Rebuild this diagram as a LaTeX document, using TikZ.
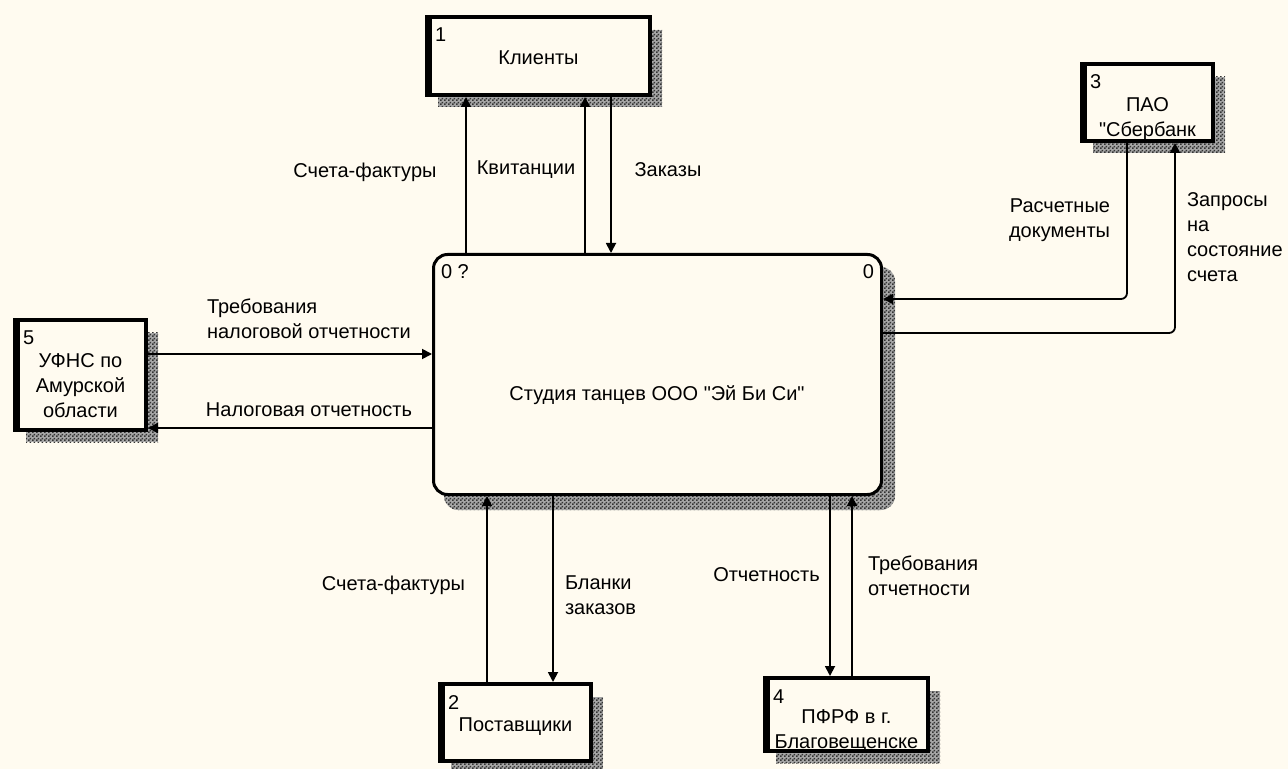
\documentclass[tikz,border=0pt]{standalone}
\usepackage{fontspec}
\setmainfont{Liberation Sans}[Ligatures=TeXOff]
\usetikzlibrary{arrows.meta,patterns.meta,backgrounds}
\definecolor{paper}{RGB}{255,251,240}
% fine dithered fill used for the drop shadows
\tikzdeclarepattern{
  name=dither,
  type=uncolored,
  bounding box={(0pt,0pt) and (2pt,2pt)},
  tile size={(2pt,2pt)},
  code={
    \fill (0pt,0pt) rectangle (1pt,1pt);
    \fill (1pt,1pt) rectangle (2pt,2pt);
  }
}
\begin{document}
\begin{tikzpicture}[x=0.5pt,y=-0.5pt,
  every node/.style={font=\fontsize{10}{12.4}\selectfont, inner sep=0pt, outer sep=0pt},
  entity/.style={draw, line width=2pt, fill=paper, rectangle, outer sep=1pt,
    path picture={\fill[black] (path picture bounding box.north west) rectangle
      ([xshift=2.5pt]path picture bounding box.south west);}},
  process/.style={draw, line width=1.5pt, fill=paper, rounded corners=7pt, outer sep=0.75pt},
  shade/.style={fill=black!35, postaction={pattern=dither, pattern color=black!80}},
  flow/.style={line width=0.9pt, -{Triangle[length=5pt,width=5pt]}},
  num/.style={anchor=base west}
]
\useasboundingbox (0,0) rectangle (1288,769);
\begin{scope}[on background layer]
  \fill[paper] (0,0) rectangle (1288,769);
\end{scope}

% central process
\node[process, minimum width=224pt, minimum height=120pt] (main) at (657.5,374.5) {};
\node (mainname) at (657,395) {Студия танцев ООО "Эй Би Си"};
\node[anchor=base west] (mainnum) at (441,279) {0 ?};
\node[anchor=base east] (mainref) at (874,279) {0};

% external entities
\node[entity, minimum width=111.5pt, minimum height=39pt] (b1) at (538.5,56) {};
\node[entity, minimum width=65.5pt, minimum height=38.5pt] (b3) at (1147.5,102.5) {};
\node[entity, minimum width=65.5pt, minimum height=55pt] (b5) at (80.5,375) {};
\node[entity, minimum width=75.5pt, minimum height=38.5pt] (b2) at (515.5,722.5) {};
\node[entity, minimum width=81.5pt, minimum height=36.5pt] (b4) at (846.5,714.5) {};

\foreach \b/\n in {b1/1, b3/3, b5/5, b2/2, b4/4}{
  \node[num] (\b num) at ([xshift=5pt,yshift=-13.5pt]\b.north west) {\n};
}
\node[anchor=north, align=center] (b1name) at ([yshift=-18pt]b1.north) {Клиенты};
\node[anchor=north, align=center] (b3name) at ([yshift=-18pt]b3.north) {ПАО\\"Сбербанк};
\node[anchor=north, align=center] (b5name) at ([yshift=-18pt]b5.north) {УФНС по\\Амурской\\области};
\node[anchor=north, align=center] (b2name) at ([yshift=-18pt]b2.north) {Поставщики};
\node[anchor=north, align=center] (b4name) at ([yshift=-17pt]b4.north) {ПФРФ в г.\\Благовещенске};

% drop shadows
\begin{scope}[on background layer]
  \foreach \b in {b1,b2,b3,b4,b5}{
    \fill[shade] ([shift={(6.5pt,-7.5pt)}]\b.north west) rectangle ([shift={(5pt,-5pt)}]\b.south east);
  }
  \fill[shade, rounded corners=7pt] ([shift={(6pt,-7pt)}]main.south west) rectangle ([shift={(6pt,-7pt)}]main.north east);
\end{scope}

% connector positions
\coordinate (xa) at (466,0);
\coordinate (xb) at (585,0);
\coordinate (xc) at (611,0);
\coordinate (xf) at (1127,0);
\coordinate (yf) at (0,299);
\coordinate (xg) at (1175,0);
\coordinate (yg) at (0,333);
\coordinate (yh) at (0,354);
\coordinate (yi) at (0,428);
\coordinate (xj) at (487,0);
\coordinate (xk) at (553,0);
\coordinate (xl) at (830,0);
\coordinate (xm) at (852,0);

% flows
\draw[flow] (main.north -| xa) -- (b1.south -| xa);
\draw[flow] (main.north -| xb) -- (b1.south -| xb);
\draw[flow] (b1.south -| xc) -- (main.north -| xc);
\draw[flow, rounded corners=3pt] (b3.south -| xf) |- (main.east |- yf);
\draw[flow, rounded corners=3pt] (main.east |- yg) -| (b3.south -| xg);
\draw[flow] (b5.east |- yh) -- (main.west |- yh);
\draw[flow] (main.west |- yi) -- (b5.east |- yi);
\draw[flow] (b2.north -| xj) -- (main.south -| xj);
\draw[flow] (main.south -| xk) -- (b2.north -| xk);
\draw[flow] (main.south -| xl) -- (b4.north -| xl);
\draw[flow] (b4.north -| xm) -- (main.south -| xm);

% flow labels
\node (l1) at (365,172) {Счета-фактуры};
\node (l2) at (526,170) {Квитанции};
\node (l3) at (668,170) {Заказы};
\node[anchor=north east, align=right] (l4) at (1110,199) {Расчетные\\документы};
\node[anchor=north west, align=left] (l5) at (1187,193) {Запросы\\на\\состояние\\счета};
\node[anchor=north west, align=left] (l6) at (207,299) {Требования\\налоговой отчетности};
\node (l7) at (309,410) {Налоговая отчетность};
\node (l8) at (393.5,585) {Счета-фактуры};
\node[anchor=north west, align=left] (l9) at (565,576) {Бланки\\заказов};
\node (l10) at (766.5,575) {Отчетность};
\node[anchor=north west, align=left] (l11) at (868,556) {Требования\\отчетности};
\end{tikzpicture}
\end{document}
